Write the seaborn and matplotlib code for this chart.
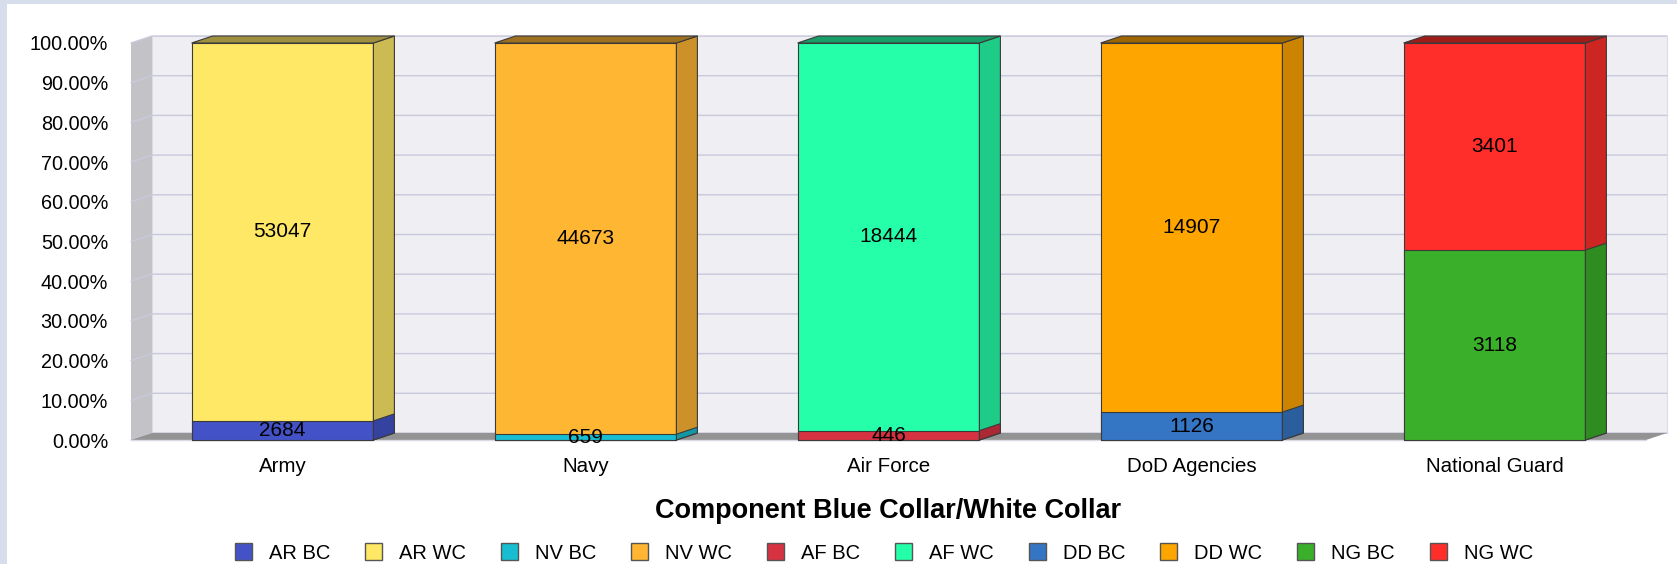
import numpy as np
import pandas as pd
import matplotlib
matplotlib.use('Agg')
import matplotlib.pyplot as plt
import seaborn as sns
from matplotlib.patches import Polygon, Patch, Rectangle
from matplotlib.colors import to_rgb

components = ['Army', 'Navy', 'Air Force', 'DoD Agencies', 'National Guard']
bc_counts = [2684, 659, 446, 1126, 3118]
wc_counts = [53047, 44673, 18444, 14907, 3401]
bc_names = ['AR BC', 'NV BC', 'AF BC', 'DD BC', 'NG BC']
wc_names = ['AR WC', 'NV WC', 'AF WC', 'DD WC', 'NG WC']
bc_colors = ['#4452c8', '#17bdd0', '#d63242', '#3475c4', '#3aaf29']
wc_colors = ['#ffe866', '#ffb733', '#26ffa9', '#ffa500', '#ff2e2a']
y_ticks = [0, 10, 20, 30, 40, 50, 60, 70, 80, 90, 100]
y_ticklabels = ['%.2f%%' % t for t in y_ticks]

df = pd.DataFrame({'component': components, 'bc': bc_counts, 'wc': wc_counts})
df['total'] = df.bc + df.wc
df['bc_pct'] = df.bc / df.total * 100
df['all_pct'] = 100.0

sns.set_style('white')
plt.rcParams['font.family'] = ['Liberation Sans', 'DejaVu Sans']
plt.rcParams['text.color'] = 'black'
plt.rcParams['axes.labelcolor'] = 'black'
plt.rcParams['xtick.labelcolor'] = 'black'
plt.rcParams['ytick.labelcolor'] = 'black'

W, H = 1677, 564
fig = plt.figure(figsize=(W / 100, H / 100), dpi=100)
# front plane of the plot area in pixels
x0, x1, y0, y1 = 131, 1646, 440, 43
ax = fig.add_axes([x0 / W, 1 - y0 / H, (x1 - x0) / W, (y0 - y1) / H])
ax.set_facecolor('none')

# white collar = whole bar, blue collar drawn over the bottom part
sns.barplot(data=df, x='component', y='all_pct', hue='component', palette=wc_colors,
            width=0.6, saturation=1, edgecolor='#3a3a3a', linewidth=0.8, legend=False, ax=ax)
wc_bars = list(ax.patches)
sns.barplot(data=df, x='component', y='bc_pct', hue='component', palette=bc_colors,
            width=0.6, saturation=1, edgecolor='#3a3a3a', linewidth=0.8, legend=False, ax=ax)
bc_bars = [p for p in ax.patches if p not in wc_bars]

ax.set_xlim(-0.5, len(components) - 0.5)
ax.set_ylim(0, 100)

# depth of the fake 3d in pixels -> data units
p0 = ax.transData.transform((0, 0))
p1 = ax.transData.transform((1, 1))
ddx = 21 / (p1[0] - p0[0])
ddy = 7 / (p1[1] - p0[1])
xmin, xmax = ax.get_xlim()

# walls and floor
ax.add_patch(Polygon([(xmin + ddx, ddy), (xmax + ddx, ddy), (xmax + ddx, 100 + ddy), (xmin + ddx, 100 + ddy)],
                     closed=True, facecolor='#eeeef3', edgecolor='#dcdce6', lw=0.8, zorder=0.3, clip_on=False))
ax.add_patch(Polygon([(xmin, 0), (xmin + ddx, ddy), (xmin + ddx, 100 + ddy), (xmin, 100)],
                     closed=True, facecolor='#c3c3c7', edgecolor='none', zorder=0.4, clip_on=False))
for t in y_ticks:
    ax.plot([xmin, xmin + ddx, xmax + ddx], [t, t + ddy, t + ddy], color='#c9c9dc', lw=1,
            zorder=0.5, clip_on=False)
ax.add_patch(Polygon([(xmin, 0), (xmax, 0), (xmax + ddx, ddy), (xmin + ddx, ddy)],
                     closed=True, facecolor='#939393', edgecolor='none', zorder=0.6, clip_on=False))
ax.plot([xmin, xmax], [0, 0], color='#dadae2', lw=1, zorder=0.6, clip_on=False)


def shade(c, f):
    return tuple(np.array(to_rgb(c)) * f)


def add_depth(bar, color, top, z):
    bx, bw = bar.get_x(), bar.get_width()
    b0, b1 = bar.get_y(), bar.get_y() + bar.get_height()
    ax.add_patch(Polygon([(bx + bw, b0), (bx + bw + ddx, b0 + ddy), (bx + bw + ddx, b1 + ddy), (bx + bw, b1)],
                         closed=True, facecolor=shade(color, 0.8), edgecolor='#3a3a3a', lw=0.8,
                         zorder=z, clip_on=False))
    if top:
        ax.add_patch(Polygon([(bx, b1), (bx + ddx, b1 + ddy), (bx + bw + ddx, b1 + ddy), (bx + bw, b1)],
                             closed=True, facecolor=shade(color, 0.62), edgecolor='#3a3a3a', lw=0.8,
                             zorder=z, clip_on=False))


for bar, c in zip(wc_bars, wc_colors):
    bar.set_zorder(2)
    bar.set_clip_on(False)
    add_depth(bar, c, True, 2)
for bar, c in zip(bc_bars, bc_colors):
    bar.set_zorder(3)
    bar.set_clip_on(False)
    add_depth(bar, c, False, 3)

# value labels in the middle of each segment
for i, row in df.iterrows():
    ax.text(i, row.bc_pct / 2, str(row.bc), ha='center', va='center', fontsize=15, color='black', zorder=5)
    ax.text(i, (row.bc_pct + 100) / 2, str(row.wc), ha='center', va='center', fontsize=15,
            color='black', zorder=5)

ax.set_yticks(y_ticks)
ax.set_yticklabels(y_ticklabels)
ax.tick_params(axis='y', length=11.5, width=1, color='#c9c9dc', pad=5, labelsize=14.3, labelcolor='black')
ax.tick_params(axis='x', length=0, pad=12, labelsize=14.8, labelcolor='black')
ax.set_ylabel('')
ax.set_xlabel('Component Blue Collar/White Collar', fontsize=19.5, fontweight='bold', labelpad=16,
              color='black')
sns.despine(ax=ax, left=True, bottom=True)

handles = []
for b, w, bc, wc in zip(bc_names, wc_names, bc_colors, wc_colors):
    handles.append(Patch(facecolor=bc, edgecolor='#555555', label=b))
    handles.append(Patch(facecolor=wc, edgecolor='#555555', label=w))
fig.legend(handles=handles, loc='center', bbox_to_anchor=(884 / W, 1 - 553 / H), ncol=10, frameon=False,
           fontsize=14.5, handlelength=0.85, handleheight=0.85, handletextpad=0.85,
           columnspacing=1.72, borderpad=0, borderaxespad=0, labelcolor='black')

# dotted page border on the top and left
fig.patches.append(Rectangle((0, 0), 7 / W, 1, transform=fig.transFigure, facecolor='#d6deec',
                             edgecolor='none', zorder=-1))
fig.patches.append(Rectangle((0, 1 - 4 / H), 1, 4 / H, transform=fig.transFigure, facecolor='#d6deec',
                             edgecolor='none', zorder=-1))

fig.savefig('out.png', dpi=100)
